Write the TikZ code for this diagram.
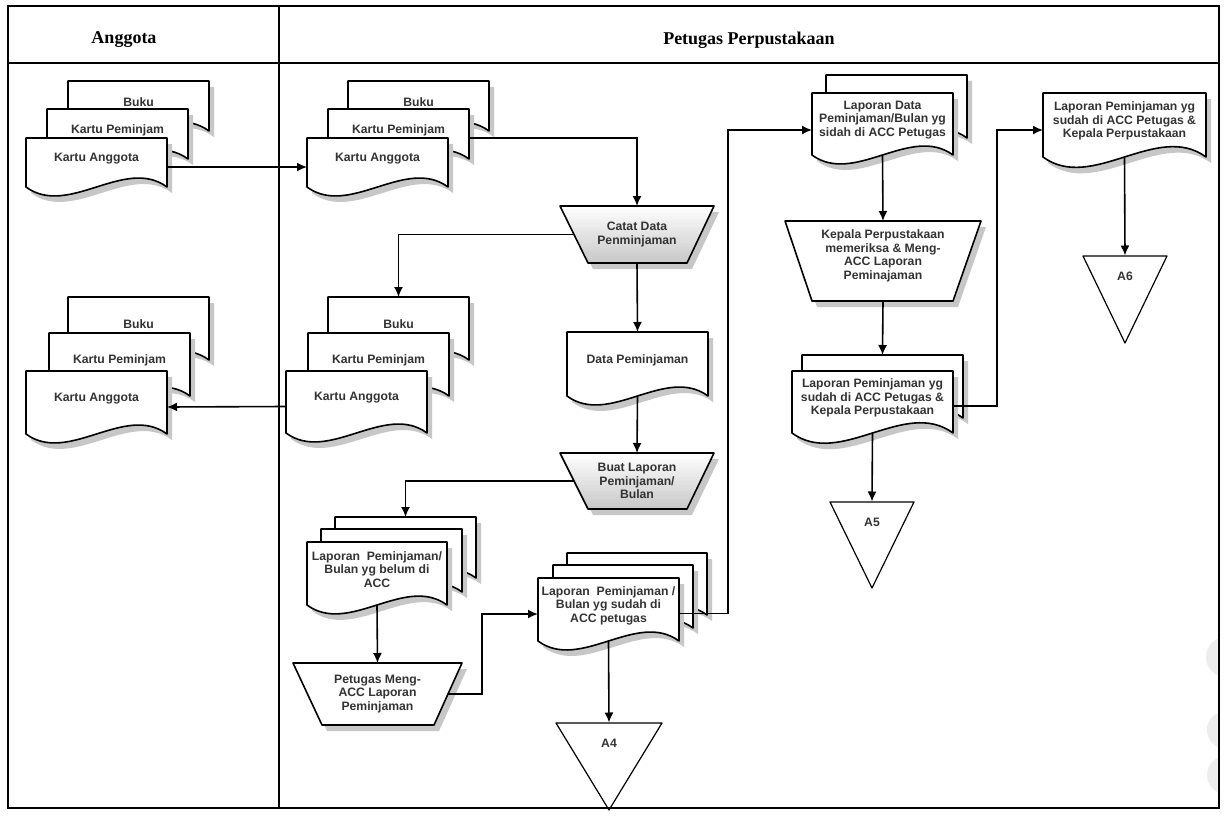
\documentclass[tikz,border=0pt]{standalone}
\usepackage{fontspec}
\setmainfont{Liberation Serif}
\newfontfamily\arialf{Liberation Sans}
\usetikzlibrary{arrows.meta}
\tikzset{
 framel/.style={line width=2.6pt, black},
 shadowf/.style={fill=black!22},
 docline/.style={line width=1.6pt, fill=white, line join=round},
 anch/.style={draw=none, inner sep=0pt, outer sep=0pt},
 doctxt/.style={font=\arialf\bfseries\fontsize{12.2}{13.5}\selectfont, text=black!80, align=center, inner sep=0pt},
 connx/.style={line width=1.6pt, -{Latex[length=10pt,width=9pt]}},
 trapg/.style={line width=1.6pt, top color=white, bottom color=black!22, line join=round},
 trapw/.style={line width=1.6pt, fill=white, line join=round},
 offline/.style={line width=1.2pt, fill=white, line join=round},
 hdrtxt/.style={font=\bfseries\fontsize{18}{20}\selectfont},
}
\newcommand\mydoc[6]{%
 \fill[shadowf] (#2+5,#3+6) -- (#2+#4+5,#3+6) -- (#2+#4+5,#3+#5+6) .. controls (#2+0.7*#4+5,#3+#5-0.22*#4+6) and (#2+0.3*#4+5,#3+#5+0.22*#4+6) .. (#2+5,#3+#5+6) -- cycle;
 \filldraw[docline] (#2,#3) -- (#2+#4,#3) -- (#2+#4,#3+#5) .. controls (#2+0.7*#4,#3+#5-0.22*#4) and (#2+0.3*#4,#3+#5+0.22*#4) .. (#2,#3+#5) -- cycle;
 \node[anch, minimum width=#4pt, minimum height=#5pt, anchor=north west] (#1) at (#2,#3) {};
 \node[doctxt, yshift=4pt] (#1-t) at (#1.center) {#6};
}
\newcommand\mytrap[9]{%
 \fill[shadowf] (#3+5,#5+6) -- (#4+5,#5+6) -- (#7+5,#8+6) -- (#6+5,#8+6) -- cycle;
 \filldraw[#1] (#3,#5) -- (#4,#5) -- (#7,#8) -- (#6,#8) -- cycle;
 \node[anch, minimum width={(#4-#3)*1pt}, minimum height={(#8-#5)*1pt}] (#2) at ({(#3+#4)/2},{(#5+#8)/2}) {};
 \coordinate (#2-l) at ({(#3+#6)/2},{(#5+#8)/2});
 \coordinate (#2-r) at ({(#4+#7)/2},{(#5+#8)/2});
 \node[doctxt] (#2-t) at (#2.center) {#9};
}
\newcommand\myoff[6]{%
 \filldraw[offline] (#2,#4) -- (#3,#4) -- ({(#2+#3)/2},#5) -- cycle;
 \node[anch, minimum width={(#3-#2)*1pt}] (#1) at ({(#2+#3)/2},#4) {};
 \node[doctxt] (#1-t) at ({(#2+#3)/2},#4+20) {#6};
}
\begin{document}
\begin{tikzpicture}[x=1pt,y=-1pt]
\useasboundingbox (0,0) rectangle (1224,816);
\fill[white] (0,0) rectangle (1224,816);

% faint circles at right edge
\begin{scope}
\clip (1190,600) rectangle (1217.5,806);
\fill[black!7] (1226,657) circle (20pt);
\fill[black!7] (1226,730) circle (19pt);
\fill[black!7] (1226,775) circle (19pt);
\end{scope}

% headers
\node[hdrtxt] (hA) at (124,40) {Anggota};
\node[hdrtxt] (hP) at (749,40) {Petugas Perpustakaan};

% Anggota top stack
\mydoc{bukuL1}{68}{81}{141}{50}{Buku}
\mydoc{kpL1}{47}{109}{141}{50}{Kartu Peminjam}
\mydoc{kaL1}{26}{138}{141}{49}{Kartu Anggota}
% Anggota lower stack
\mydoc{bukuL2}{68}{297}{141}{63}{Buku}
\mydoc{kpL2}{49}{333}{141}{63}{Kartu Peminjam}
\mydoc{kaL2}{26}{371}{141}{63}{Kartu Anggota}

% Petugas top stack
\mydoc{bukuR1}{348}{81}{141}{50}{Buku}
\mydoc{kpR1}{328}{109}{141}{50}{Kartu Peminjam}
\mydoc{kaR1}{307}{138}{141}{49}{Kartu Anggota}
% Petugas middle stack
\mydoc{bukuM}{328}{297}{141}{63}{Buku}
\mydoc{kpM}{308}{333}{141}{63}{Kartu Peminjam}
\mydoc{kaM}{286}{371}{141}{62}{Kartu Anggota}

\mytrap{trapg}{catat}{560}{714}{206}{588}{687}{263}{Catat Data\\Penminjaman}
\mydoc{datap}{567}{332}{141}{64}{Data Peminjaman}
\mytrap{trapg}{buat}{560}{714}{453}{588}{687}{509}{Buat Laporan\\Peminjaman/\\Bulan}

\mydoc{lapB1}{335}{517}{141}{61}{}
\mydoc{lapB2}{321}{529}{141}{63}{}
\mydoc{lapB3}{307}{542}{140}{63}{Laporan\ \ Peminjaman/\\Bulan yg belum di\\ACC}
\mytrap{trapw}{petugas}{293}{462}{663}{322}{434}{725}{Petugas Meng-\\ACC Laporan\\Peminjaman}

\mydoc{lapS1}{567}{553}{140}{62}{}
\mydoc{lapS2}{553}{565}{140}{63}{}
\mydoc{lapS3}{538}{578}{141}{63}{Laporan\ \ Peminjaman /\\Bulan yg sudah di\\ACC petugas}
\myoff{a4}{556}{662}{723}{810}{A4}

\mydoc{lapD1}{826}{75}{141}{63}{}
\mydoc{lapD2}{812}{93}{141}{62}{Laporan Data\\Peminjaman/Bulan yg\\sidah di ACC Petugas}
\mytrap{trapw}{kepala}{785}{981}{221}{812}{953}{301}{}
\node[doctxt] (kepala-txt) at ([yshift=5pt]kepala.center) {Kepala Perpustakaan\\memeriksa \& Meng-\\ACC Laporan\\Peminajaman};
\mydoc{lapP1}{802}{355}{161}{63}{}
\mydoc{lapP2}{792}{371}{161}{62}{Laporan Peminjaman yg\\sudah di ACC Petugas \&\\Kepala Perpustakaan}
\myoff{a5}{830}{914}{502}{588}{A5}

\mydoc{fin}{1043}{93}{163}{64}{Laporan Peminjaman yg\\sudah di ACC Petugas \&\\Kepala Perpustakaan}
\myoff{a6}{1083}{1167}{256}{343}{A6}

% connectors
\draw[connx] ([yshift=-4.5pt]kaL1.east) -- ([yshift=-4.5pt]kaR1.west);
\draw[connx] ([yshift=-4pt]kpR1.east) -| (catat.north);
\draw[connx] (catat-l) -| (bukuM.north);
\draw[connx] (catat.south) -- (datap.north);
\draw[connx] (datap.south) -- (buat.north);
\draw[connx] ([yshift=-4.5pt]kaM.west) -- ([yshift=-4.5pt]kaL2.east);
\draw[connx] (buat-l) -| (lapB1.north);
\draw[connx] (lapB3.south) -- (petugas.north);
\draw[connx] (petugas-r) -- ++(34,0) |- ([yshift=-4.5pt]lapS3.west);
\draw[connx] (lapS3.south) -- (a4.north);
\draw[connx] ([yshift=-4pt]lapS3.east) -- ++(49,0) |- ([yshift=-6pt]lapD2.west);
\draw[connx] (lapD2.south) -- (kepala.north);
\draw[connx] (kepala.south) -- (lapP1.north);
\draw[connx] (lapP2.south) -- (a5.north);
\draw[connx] ([yshift=-4pt]lapP2.east) -- ++(44,0) |- ([yshift=-5pt]fin.west);
\draw[connx] (fin.south) -- (a6.north);

% frame
\draw[framel] (8,6) rectangle (1219,808);
\draw[framel] (8,63) -- (1219,63);
\draw[framel] (279,6) -- (279,808);
\end{tikzpicture}
\end{document}
